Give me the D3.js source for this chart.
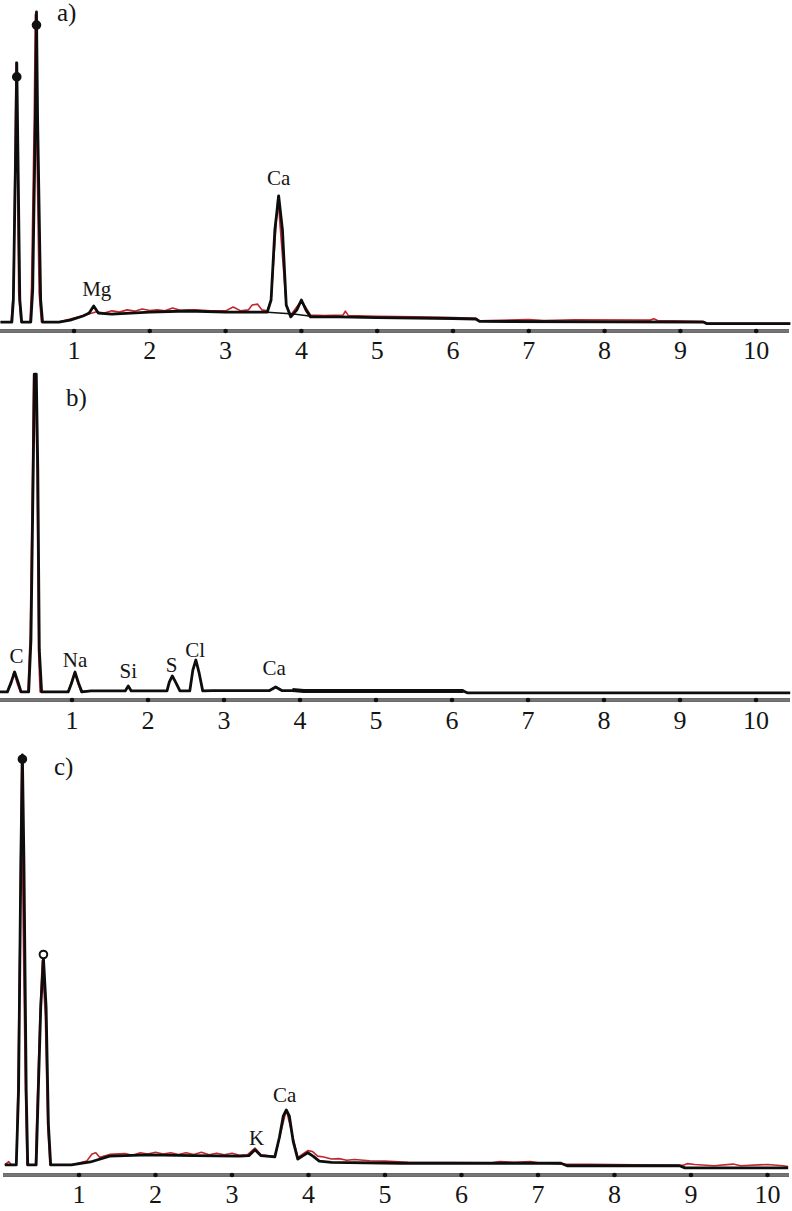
<!DOCTYPE html>
<html>
<head>
<meta charset="utf-8">
<script src="https://cdn.jsdelivr.net/npm/d3@7"></script>
<style>
  body { margin: 0; background: #fff; }
  text { font-family: "Liberation Serif", "DejaVu Serif", serif; fill: #151515; }
</style>
</head>
<body>
<div id="chart"></div>
<script>
// tick labels (keV)
var ticks = [1, 2, 3, 4, 5, 6, 7, 8, 9, 10];

// ---- a) spectrum (energy keV / relative counts)
var aEnergy = [0.03, 0.18, 0.2, 0.23, 0.245, 0.26, 0.285, 0.31, 0.43, 0.455, 0.49, 0.505, 0.52, 0.56, 0.585,
  0.8, 0.95, 1.12, 1.2, 1.26, 1.32, 1.5, 2.0, 2.5, 3.0, 3.55, 3.6, 3.65, 3.7, 3.75, 3.8, 3.86, 3.94, 4.0, 4.06,
  4.12, 4.5, 5.0, 6.0, 6.3, 6.35, 9.3, 9.35, 10.45];
var aCounts = [2.8, 2.8, 9.7, 56, 83.8, 56, 9.7, 2.8, 2.8, 12.8, 66, 99.7, 66, 9.7, 2.8,
  2.8, 3.4, 4.7, 5.6, 7.8, 5.6, 5.3, 5.9, 6.25, 5.9, 5.9, 9.7, 31.6, 42.2, 31.6, 8.1, 4.4, 6.6, 9.7, 6.6,
  4.4, 4.4, 4.2, 3.9, 3.75, 3.0, 2.8, 2.3, 2.3];
var aRedEnergy = [0.03, 0.17, 0.2, 0.225, 0.235, 0.25, 0.27, 0.3, 0.42, 0.44, 0.475, 0.49, 0.505, 0.54, 0.57,
  0.8, 1.1, 1.3, 1.4, 1.5, 1.6, 1.7, 1.8, 1.9, 2.0, 2.1, 2.2, 2.3, 2.4, 2.6, 2.8, 3.0, 3.1, 3.2, 3.3, 3.35, 3.42,
  3.48, 3.55, 3.6, 3.69, 3.8, 3.86, 4.0, 4.12, 4.3, 4.55, 4.58, 4.62, 5.0, 5.5, 6.0, 6.3, 6.35, 7.0, 7.2, 7.6,
  8.6, 8.65, 8.7, 9.3, 9.35, 10.45];
var aRedCounts = [2.8, 2.8, 12, 60, 84, 60, 12, 2.8, 2.8, 14, 66, 99, 66, 12, 2.8,
  2.8, 4.7, 6.0, 5.6, 6.3, 5.9, 6.6, 6.2, 6.9, 6.4, 6.6, 6.3, 7.2, 6.5, 6.6, 6.3, 6.3, 7.5, 6.3, 6.6, 8.1, 8.4,
  6.6, 6.3, 9.7, 42, 8, 5, 9.5, 5, 4.8, 5.0, 6.2, 4.8, 4.6, 4.4, 4.2, 4.0, 3.2, 3.6, 3.3, 3.5,
  3.4, 3.8, 3.3, 3.0, 2.4, 2.4];
var aBgEnergy = [3.5, 3.9, 4.2];
var aBgCounts = [5.9, 5.3, 4.4];
var aMarkEnergy = [0.245, 0.505];
var aMarkCounts = [79.4, 95.6];
var aLabels = ["Mg", "Ca"];
var aLabelEnergy = [1.3, 3.7];
var aLabelCounts = [10.9, 45.6];

// ---- b) spectrum
var bEnergy = [0.03, 0.15, 0.2, 0.245, 0.29, 0.33, 0.43, 0.46, 0.49, 0.505, 0.53, 0.55, 0.57, 0.6, 0.75,
  0.95, 0.99, 1.04, 1.09, 1.13, 1.25, 1.7, 1.74, 1.78, 2.25, 2.28, 2.32, 2.37, 2.42, 2.55, 2.59, 2.63, 2.67,
  2.72, 2.85, 3.6, 3.68, 3.76, 4.0, 4.05, 6.15, 6.2, 10.45];
var bCounts = [2.5, 2.5, 5.5, 8.6, 5.5, 2.5, 2.5, 18.5, 70.8, 100.3, 100.3, 70.8, 15.4, 2.5, 2.5,
  2.5, 4.9, 8.6, 4.9, 2.5, 2.8, 2.8, 4.3, 2.8, 2.8, 5.5, 7.4, 5.2, 2.8, 2.8, 9.2, 12.3, 8.6,
  2.8, 2.9, 2.9, 4.0, 2.9, 2.9, 2.8, 2.8, 2.2, 2.2];
var bRedEnergy = [0.03, 0.15, 0.2, 0.235, 0.28, 0.32, 0.42, 0.45, 0.48, 0.495, 0.52, 0.54, 0.56, 0.58, 0.95,
  1.03, 1.12, 1.25];
var bRedCounts = [2.5, 2.5, 5, 8.6, 5, 2.5, 2.5, 20, 70, 100.3, 100, 70, 15, 2.5, 2.5,
  8.4, 2.5, 2.8];
var bBgEnergy = [3.9, 4.05, 6.15];
var bBgCounts = [3.1, 2.8, 2.8];
var bLabels = ["C", "Na", "Si", "S", "Cl", "Ca"];
var bLabelEnergy = [0.27, 1.04, 1.74, 2.31, 2.62, 3.66];
var bLabelCounts = [11.4, 10.2, 6.8, 8.6, 13.2, 7.7];

// ---- c) spectrum
var cEnergy = [0.03, 0.18, 0.21, 0.24, 0.26, 0.28, 0.31, 0.33, 0.44, 0.46, 0.5, 0.535, 0.57, 0.6, 0.63,
  0.9, 1.15, 1.4, 1.9, 2.5, 3.1, 3.22, 3.3, 3.38, 3.56, 3.62, 3.67, 3.71, 3.75, 3.8, 3.86, 3.93, 3.99, 4.06,
  4.14, 4.3, 5.2, 6.4, 7.3, 7.38, 8.85, 8.92, 10.27];
var cCounts = [2.4, 2.4, 20, 75, 100, 75, 20, 2.4, 2.4, 15, 40, 51.7, 40, 12, 2.4,
  2.4, 3.1, 4.5, 4.8, 4.6, 4.5, 4.6, 6.0, 4.6, 4.3, 9, 14, 15.5, 14, 8, 3.8, 4.6, 5.3, 4.5,
  3.3, 3.0, 2.8, 2.8, 2.8, 2.2, 2.2, 1.7, 1.7];
var cRedEnergy = [0.03, 0.08, 0.12, 0.18, 0.2, 0.23, 0.25, 0.27, 0.3, 0.32, 0.43, 0.45, 0.49, 0.52, 0.56, 0.59,
  0.62, 0.9, 1.1, 1.17, 1.22, 1.27, 1.4, 1.6, 1.7, 1.8, 1.9, 2.0, 2.1, 2.2, 2.3, 2.4, 2.5, 2.6, 2.7, 2.8, 2.9,
  3.0, 3.1, 3.2, 3.3, 3.38, 3.56, 3.71, 3.86, 3.99, 4.05, 4.12, 4.2, 4.3, 4.4, 4.5, 4.6, 4.8, 5.0, 5.3, 6.4,
  6.5, 6.7, 6.9, 7.0, 7.35, 8.9, 8.95, 9.05, 9.3, 9.55, 9.65, 10.0, 10.2, 10.27];
var cRedCounts = [2.4, 3.2, 2.4, 2.4, 20, 60, 99, 60, 20, 2.4, 2.4, 15, 38, 51, 38, 12,
  2.4, 2.4, 3.3, 5.0, 5.3, 4.2, 4.9, 5.1, 4.7, 5.3, 5.0, 5.4, 5.0, 5.3, 4.9, 5.3, 4.9, 5.4, 4.8, 5.2, 4.8,
  5.2, 4.7, 4.8, 6.4, 4.8, 4.4, 15.5, 4.2, 5.8, 5.6, 4.5, 4.3, 3.8, 3.9, 3.5, 3.7, 3.4, 3.3, 3.0, 2.9,
  3.2, 3.0, 3.2, 2.9, 2.6, 2.3, 2.7, 2.5, 2.2, 2.6, 2.2, 2.5, 2.2, 2.0];
var cMarkEnergy = [0.26, 0.535];
var cMarkCounts = [99, 52.5];
var cMarkHollow = [false, true];
var cLabels = ["K", "Ca"];
var cLabelEnergy = [3.32, 3.69];
var cLabelCounts = [7.1, 17.4];

var W = 792, H = 1211;

var svg = d3.select("#chart").append("svg")
    .attr("width", W)
    .attr("height", H);

svg.append("rect").attr("width", W).attr("height", H).attr("fill", "#fff");

// panel layout: where keV 0/10 fall, where the axis sits, scale of counts
var panels = [
  { name: "a)", x0: -1.8, x10: 756.2, axisY: 331, top: 11, tickY: 359, axisX: [0, 789], nameX: 57, nameY: 21,
    energy: aEnergy, counts: aCounts, redE: aRedEnergy, redC: aRedCounts, bgE: aBgEnergy, bgC: aBgCounts, bgW: 1.5,
    markE: aMarkEnergy, markC: aMarkCounts, markHollow: [false, false],
    labels: aLabels, labelE: aLabelEnergy, labelC: aLabelCounts },
  { name: "b)", x0: -4, x10: 756, axisY: 700, top: 375, tickY: 729, axisX: [0, 790], nameX: 66, nameY: 406,
    energy: bEnergy, counts: bCounts, redE: bRedEnergy, redC: bRedCounts, bgE: bBgEnergy, bgC: bBgCounts, bgW: 4,
    markE: [], markC: [], markHollow: [],
    labels: bLabels, labelE: bLabelEnergy, labelC: bLabelCounts },
  { name: "c)", x0: 2.5, x10: 767.5, axisY: 1175, top: 755, tickY: 1203, axisX: [3, 789], nameX: 54, nameY: 775,
    energy: cEnergy, counts: cCounts, redE: cRedEnergy, redC: cRedCounts, bgE: [], bgC: [], bgW: 1.5,
    markE: cMarkEnergy, markC: cMarkCounts, markHollow: cMarkHollow,
    labels: cLabels, labelE: cLabelEnergy, labelC: cLabelCounts }
];

function zipPts(e, c) {
  return e.map(function (d, i) { return [d, c[i]]; });
}

panels.forEach(function (p) {
  var x = d3.scaleLinear().domain([0, 10]).range([p.x0, p.x10]);
  var y = d3.scaleLinear().domain([0, 100]).range([p.axisY, p.top]);
  var g = svg.append("g");

  var line = d3.line()
      .x(function (d) { return x(d[0]); })
      .y(function (d) { return y(d[1]); });

  // axis: grey rule with dark edges and dot ticks
  g.append("line")
      .attr("x1", p.axisX[0]).attr("x2", p.axisX[1])
      .attr("y1", p.axisY).attr("y2", p.axisY)
      .attr("stroke", "#3a3a3a").attr("stroke-width", 3.6);
  g.append("line")
      .attr("x1", p.axisX[0]).attr("x2", p.axisX[1])
      .attr("y1", p.axisY).attr("y2", p.axisY)
      .attr("stroke", "#b0b0b0").attr("stroke-width", 1.2);

  g.selectAll(".tickdot")
      .data(ticks)
      .enter().append("circle")
      .attr("cx", function (d) { return x(d); })
      .attr("cy", p.axisY)
      .attr("r", 2.3)
      .attr("fill", "#111");

  g.selectAll(".ticklab")
      .data(ticks)
      .enter().append("text")
      .attr("x", function (d) { return x(d); })
      .attr("y", p.tickY)
      .attr("text-anchor", "middle")
      .style("font-size", "26px")
      .text(function (d) { return d; });

  // red trace under the black one
  g.append("path")
      .datum(zipPts(p.redE, p.redC))
      .attr("d", line)
      .attr("fill", "none")
      .attr("stroke", "#c0282d")
      .attr("stroke-width", 1.6)
      .attr("stroke-linejoin", "round");

  if (p.bgE.length) {
    g.append("path")
        .datum(zipPts(p.bgE, p.bgC))
        .attr("d", line)
        .attr("fill", "none")
        .attr("stroke", "#111")
        .attr("stroke-width", p.bgW);
  }

  g.append("path")
      .datum(zipPts(p.energy, p.counts))
      .attr("d", line)
      .attr("fill", "none")
      .attr("stroke", "#0d0d0d")
      .attr("stroke-width", 2.8)
      .attr("stroke-linejoin", "round");

  g.selectAll(".mark")
      .data(p.markE)
      .enter().append("circle")
      .attr("cx", function (d) { return x(d); })
      .attr("cy", function (d, i) { return y(p.markC[i]); })
      .attr("r", 3.8)
      .attr("fill", function (d, i) { return p.markHollow[i] ? "#fff" : "#111"; })
      .attr("stroke", "#111")
      .attr("stroke-width", 2);

  g.selectAll(".plab")
      .data(p.labels)
      .enter().append("text")
      .attr("x", function (d, i) { return x(p.labelE[i]); })
      .attr("y", function (d, i) { return y(p.labelC[i]); })
      .attr("text-anchor", "middle")
      .style("font-size", "21px")
      .text(function (d) { return d; });

  g.append("text")
      .attr("x", p.nameX)
      .attr("y", p.nameY)
      .style("font-size", "25px")
      .text(p.name);
});
</script>
</body>
</html>
